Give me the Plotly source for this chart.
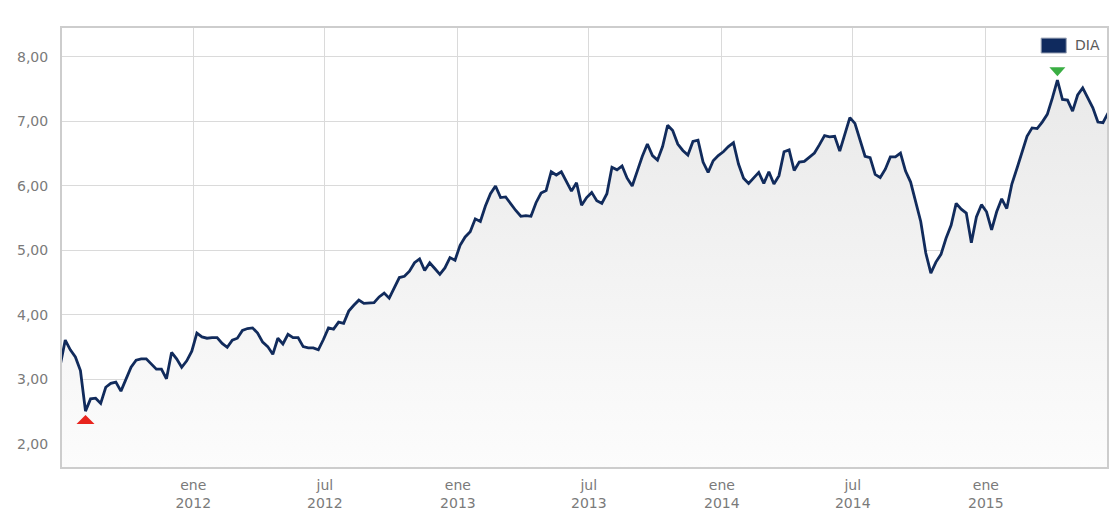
import pandas as pd
import plotly.graph_objects as go

# Weekly closing prices of DIA (Friday closes)
start_date = "2011-07-01"
closes = [
    3.22, 3.61, 3.46, 3.35, 3.14, 2.51, 2.70, 2.71, 2.63, 2.88,
    2.94, 2.96, 2.82, 3.00, 3.19, 3.30, 3.32, 3.32, 3.24, 3.16,
    3.16, 3.01, 3.42, 3.32, 3.19, 3.29, 3.44, 3.72, 3.66, 3.64,
    3.65, 3.65, 3.56, 3.50, 3.61, 3.64, 3.76, 3.79, 3.80, 3.72,
    3.58, 3.51, 3.39, 3.64, 3.55, 3.70, 3.65, 3.65, 3.51, 3.49,
    3.49, 3.46, 3.62, 3.80, 3.78, 3.89, 3.87, 4.06, 4.15, 4.23,
    4.18, 4.19, 4.19, 4.28, 4.34, 4.26, 4.42, 4.58, 4.60, 4.68,
    4.81, 4.87, 4.69, 4.81, 4.72, 4.63, 4.73, 4.89, 4.85, 5.08,
    5.21, 5.29, 5.49, 5.45, 5.69, 5.88, 6.00, 5.82, 5.83, 5.72,
    5.62, 5.53, 5.54, 5.53, 5.74, 5.89, 5.93, 6.22, 6.17, 6.22,
    6.08, 5.92, 6.05, 5.70, 5.82, 5.90, 5.77, 5.73, 5.88, 6.29,
    6.25, 6.31, 6.12, 6.00, 6.23, 6.46, 6.65, 6.47, 6.40, 6.61,
    6.94, 6.86, 6.65, 6.55, 6.48, 6.69, 6.71, 6.37, 6.21, 6.39,
    6.47, 6.53, 6.61, 6.67, 6.34, 6.12, 6.04, 6.12, 6.21, 6.04,
    6.22, 6.03, 6.16, 6.53, 6.56, 6.24, 6.37, 6.38, 6.44, 6.51,
    6.64, 6.78, 6.76, 6.77, 6.54, 6.80, 7.06, 6.97, 6.72, 6.46,
    6.44, 6.18, 6.13, 6.26, 6.45, 6.45, 6.51, 6.23, 6.06, 5.75,
    5.45, 4.96, 4.65, 4.82, 4.94, 5.19, 5.39, 5.73, 5.64, 5.58,
    5.12, 5.52, 5.71, 5.60, 5.32, 5.60, 5.80, 5.65, 6.03, 6.27,
    6.53, 6.77, 6.90, 6.89, 6.99, 7.11, 7.36, 7.64, 7.34, 7.33,
    7.16, 7.41, 7.52, 7.36, 7.21, 6.99, 6.98, 7.13,
]
dates = pd.date_range(start_date, periods=len(closes), freq="7D")

tick_dates = ["2012-01-01", "2012-07-01", "2013-01-01", "2013-07-01",
              "2014-01-01", "2014-07-01", "2015-01-01"]
tick_labels = ["ene<br>2012", "jul<br>2012", "ene<br>2013", "jul<br>2013",
               "ene<br>2014", "jul<br>2014", "ene<br>2015"]
y_ticks = [2, 3, 4, 5, 6, 7, 8]
series_name = "DIA"

LINE = "#112b5c"
GRID = "#dadada"
TEXT = "#7a7a7a"

fig = go.Figure()
fig.add_trace(go.Scatter(
    x=dates, y=closes, mode="lines", name=series_name,
    line=dict(color=LINE, width=2.8),
    fill="tozeroy",
    fillgradient=dict(type="vertical", start=1.65, stop=7.7,
                      colorscale=[[0, "rgba(252,252,252,1)"],
                                  [1, "rgba(233,233,233,1)"]]),
    showlegend=False,
))

# min / max flags
i_min = min(range(len(closes)), key=lambda i: closes[i])
i_max = max(range(len(closes)), key=lambda i: closes[i])
shapes = [
    dict(type="path", xref="x", yref="y", xsizemode="pixel", ysizemode="pixel",
         xanchor=dates[i_min], yanchor=closes[i_min],
         path="M-9,-13 L9,-13 L0,-4 Z", fillcolor="#e8241d", line=dict(width=0)),
    dict(type="path", xref="x", yref="y", xsizemode="pixel", ysizemode="pixel",
         xanchor=dates[i_max], yanchor=closes[i_max],
         path="M-8,13 L8,13 L0,4 Z", fillcolor="#3aae43", line=dict(width=0)),
    # legend swatch
    dict(type="rect", xref="paper", yref="paper",
         x0=0.937, x1=0.961, y0=0.943, y1=0.977,
         fillcolor="#0f2a5e", line=dict(color="#9aa3b5", width=1)),
]

fig.update_layout(
    width=1109, height=511,
    margin=dict(l=62, r=0, t=28, b=43),
    paper_bgcolor="white", plot_bgcolor="white",
    separators=",.",
    font=dict(family="DejaVu Sans, Verdana, sans-serif", size=14, color=TEXT),
    shapes=shapes,
    annotations=[dict(text=series_name, xref="paper", yref="paper",
                      x=0.967, y=0.961, xanchor="left", yanchor="middle",
                      showarrow=False, font=dict(size=14, color="#5a5a5a"))],
    showlegend=False,
)
fig.update_xaxes(
    range=["2011-07-03 12:00", "2015-06-17 14:00"],
    tickvals=tick_dates, ticktext=tick_labels,
    tickfont=dict(size=14),
    showgrid=True, gridcolor=GRID, gridwidth=1,
    showline=True, linecolor="#cdcdcd", linewidth=2, mirror=True,
    ticks="", ticklabelstandoff=4, zeroline=False,
)
fig.update_yaxes(
    range=[1.644, 8.448],
    tickvals=y_ticks, tickformat=".2f",
    tickfont=dict(size=14),
    showgrid=True, gridcolor=GRID, gridwidth=1,
    showline=True, linecolor="#cdcdcd", linewidth=2, mirror=True,
    ticks="", ticklabelstandoff=9, zeroline=False,
)

fig.write_html("out.html")
